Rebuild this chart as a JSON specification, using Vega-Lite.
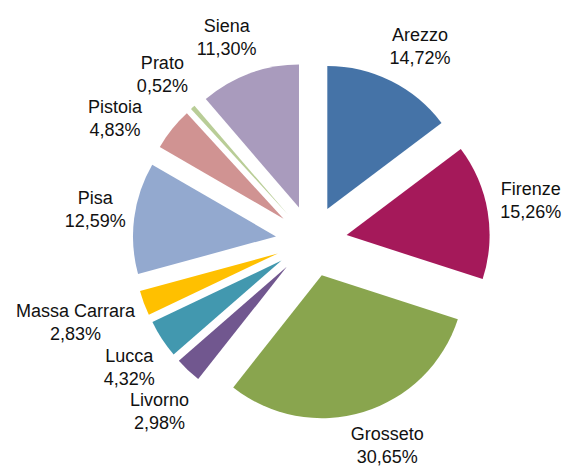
{
  "$schema": "https://vega.github.io/schema/vega-lite/v6.json",
  "width": 564,
  "height": 468,
  "padding": 0,
  "autosize": {"type": "none"},
  "background": "white",
  "config": {"view": {"stroke": null}},
  "data": {
    "values": [
      {"name": "Arezzo", "value": 14.72},
      {"name": "Firenze", "value": 15.26},
      {"name": "Grosseto", "value": 30.65},
      {"name": "Livorno", "value": 2.98},
      {"name": "Lucca", "value": 4.32},
      {"name": "Massa Carrara", "value": 2.83},
      {"name": "Pisa", "value": 12.59},
      {"name": "Pistoia", "value": 4.83},
      {"name": "Prato", "value": 0.52},
      {"name": "Siena", "value": 11.30}
    ]
  },
  "transform": [
    {"joinaggregate": [{"op": "sum", "field": "value", "as": "total"}]},
    {"window": [{"op": "sum", "field": "value", "as": "cum"}], "frame": [null, 0]},
    {"calculate": "(datum.cum - datum.value) / datum.total * 100", "as": "start"},
    {"calculate": "datum.cum / datum.total * 100", "as": "end"},
    {"calculate": "(datum.cum - datum.value / 2) / datum.total * 2 * PI", "as": "mid"},
    {"calculate": "sin(datum.mid)", "as": "s"},
    {"calculate": "cos(datum.mid)", "as": "c"},
    {"calculate": "35.7 * datum.s", "as": "ox"},
    {"calculate": "35.7 * datum.c", "as": "oy"},
    {"calculate": "replace(format(datum.value, '.2f'), '.', ',') + '%'", "as": "pct"},
    {"calculate": "4.3 * max(length(datum.name), length(datum.pct))", "as": "hw"},
    {"calculate": "192 * datum.s + datum.hw * clamp(2 * datum.s, -1, 1)", "as": "px"},
    {"calculate": "-192 * datum.c + 22 * clamp(-2 * datum.c, -1, 1)", "as": "py"},
    {"window": [
      {"op": "lead", "field": "px", "as": "npx"},
      {"op": "lead", "field": "py", "as": "npy"},
      {"op": "lead", "field": "hw", "as": "nhw"}
    ], "frame": [null, null]},
    {"calculate": "datum.npx == null ? 0 : datum.hw + datum.nhw - abs(datum.px - datum.npx)", "as": "ovx"},
    {"calculate": "datum.npy == null ? 0 : 44 - abs(datum.py - datum.npy)", "as": "ovy"},
    {"calculate": "(datum.ovx > 0 && datum.ovy > 0) ? min(datum.ovx / abs(datum.c), datum.ovy / abs(datum.s)) : 0", "as": "t"},
    {"calculate": "datum.px - datum.t * datum.c", "as": "lx"},
    {"calculate": "-(datum.py - datum.t * datum.s) + 11.5", "as": "ly"},
    {"calculate": "datum.name + '\\n' + datum.pct", "as": "label"}
  ],
  "layer": [
    {
      "mark": {"type": "arc", "radius": 143, "stroke": null},
      "encoding": {
        "theta": {"field": "start", "type": "quantitative", "stack": null, "scale": {"domain": [0, 100], "range": [0, 6.283185307179586]}},
        "theta2": {"field": "end"},
        "x": {"field": "ox", "type": "quantitative", "axis": null, "scale": {"domain": [-311.4, 252.6], "range": [0, 564], "nice": false, "zero": false}},
        "y": {"field": "oy", "type": "quantitative", "axis": null, "scale": {"domain": [-227, 241], "range": [468, 0], "nice": false, "zero": false}},
        "color": {
          "field": "name",
          "type": "nominal",
          "legend": null,
          "scale": {
            "domain": ["Arezzo", "Firenze", "Grosseto", "Livorno", "Lucca", "Massa Carrara", "Pisa", "Pistoia", "Prato", "Siena"],
            "range": ["#4573A7", "#A5195A", "#89A54E", "#71578F", "#4298AF", "#FFC000", "#93A9CF", "#D09392", "#B9CD97", "#A99BBD"]
          }
        }
      }
    },
    {
      "mark": {"type": "text", "font": "Liberation Sans", "fontSize": 18, "lineBreak": "\n", "lineHeight": 23, "align": "center", "baseline": "middle", "color": "#111111"},
      "encoding": {
        "x": {"field": "lx", "type": "quantitative", "axis": null, "scale": {"domain": [-311.4, 252.6], "range": [0, 564], "nice": false, "zero": false}},
        "y": {"field": "ly", "type": "quantitative", "axis": null, "scale": {"domain": [-227, 241], "range": [468, 0], "nice": false, "zero": false}},
        "text": {"field": "label"}
      }
    }
  ]
}
